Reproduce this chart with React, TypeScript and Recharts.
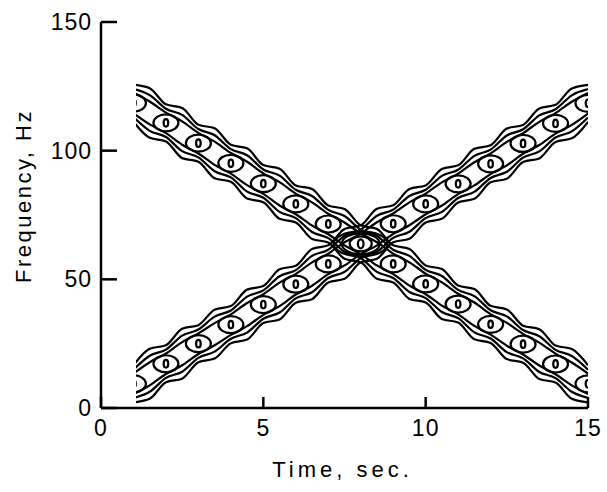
import React from 'react';
import { ComposedChart, Line, Scatter, XAxis, YAxis } from 'recharts';

// ---- data ----
const circleTimes = [1, 2, 3, 4, 5, 6, 7, 8, 9, 10, 11, 12, 13, 14, 15];
const fallingCenters = [118.5, 110.8, 102.9, 95.1, 87.2, 79.3, 71.5, 63.8, 56.0, 48.2, 40.4, 32.5, 24.8, 17.1, 9.4];
const risingCenters = [9.4, 17.2, 25.0, 32.4, 40.2, 48.1, 56.0, 63.8, 71.6, 79.3, 87.1, 94.9, 102.8, 110.6, 118.4];
// contour distance from the ridge (Hz): where the lines pass each circle, and beyond the step half-way
const pinchOffsets = [4.0, 5.5, 7.2];
const spreadOffsets = [0.6, 3.1, 5.8];
const crossing = [{ t: 8, f: 63.8 }];
const bandStart = 1.08;
const xTicks = [0, 5, 10, 15];
const yTicks = [0, 50, 100, 150];

// ---- layout ----
const W = 607;
const H = 492;
const PLOT_L = 101;
const PLOT_R = 588;
const PLOT_T = 22;
const PLOT_B = 408;
const Y_AXIS_W = 60;
const X_AXIS_H = 60;

type Pt = { t: number; f: number };

function buildLine(centers: number[], sign: number, k: number): Pt[] {
  const pts: Pt[] = [];
  for (let i = 0; i < centers.length; i++) {
    pts.push({ t: circleTimes[i], f: centers[i] + sign * pinchOffsets[k] });
    if (i < centers.length - 1) {
      const hi = Math.max(centers[i], centers[i + 1]);
      const lo = Math.min(centers[i], centers[i + 1]);
      const f = sign > 0 ? hi + spreadOffsets[k] : lo - spreadOffsets[k];
      pts.push({ t: circleTimes[i] + 0.5, f });
    }
  }
  return pts;
}

const lines: Pt[][] = [];
[fallingCenters, risingCenters].forEach((c) => {
  pinchOffsets.forEach((_, k) => {
    lines.push(buildLine(c, 1, k));
    lines.push(buildLine(c, -1, k));
  });
});

const fallingPts: Pt[] = circleTimes.map((t, i) => ({ t, f: fallingCenters[i] })).filter((d) => d.t !== 8);
const risingPts: Pt[] = circleTimes.map((t, i) => ({ t, f: risingCenters[i] })).filter((d) => d.t !== 8);

const STROKE = '#000';
const SW = 2.2;

const Rings = (props: any) => {
  const { cx, cy } = props;
  if (cx == null || cy == null) return null;
  return (
    <g>
      <ellipse cx={cx} cy={cy} rx={2.3} ry={3.8} fill="none" stroke={STROKE} strokeWidth={SW} />
      <ellipse cx={cx} cy={cy} rx={12.5} ry={8.5} fill="none" stroke={STROKE} strokeWidth={SW} />
    </g>
  );
};

const CrossRings = (props: any) => {
  const { cx, cy } = props;
  if (cx == null || cy == null) return null;
  const rings = [
    [2.8, 4.5],
    [11, 7.5],
    [19, 10.5],
    [27, 12.5],
  ];
  return (
    <g>
      {rings.map(([rx, ry], i) => (
        <ellipse key={i} cx={cx} cy={cy} rx={rx} ry={ry} fill="none" stroke={STROKE} strokeWidth={SW} />
      ))}
    </g>
  );
};

const FONT = '"Liberation Sans", Arial, Helvetica, sans-serif';

const YTick = (props: any) => {
  const { x, y, payload } = props;
  const axisX = x + 9;
  return (
    <g>
      <line x1={axisX} y1={y} x2={axisX + 16} y2={y} stroke={STROKE} strokeWidth={2.5} />
      <text x={x} y={y} textAnchor="end" dominantBaseline="central" fontFamily={FONT} fontSize={23} letterSpacing={1} fill="#000">
        {payload.value}
      </text>
    </g>
  );
};

const XTick = (props: any) => {
  const { x, y, payload } = props;
  const axisY = y - 12;
  return (
    <g>
      <line x1={x} y1={axisY} x2={x} y2={axisY - 11} stroke={STROKE} strokeWidth={2.5} />
      <text x={x} y={axisY + 28} textAnchor="middle" fontFamily={FONT} fontSize={23} letterSpacing={1} fill="#000">
        {payload.value}
      </text>
    </g>
  );
};

export default function App() {
  const pxPerSec = (PLOT_R - PLOT_L) / 15;
  const clipX = PLOT_L + bandStart * pxPerSec;
  return (
    <div style={{ position: 'absolute', left: 0, top: 0, width: W, height: H, background: '#fff' }}>
      <style>{`.band { clip-path: url(#bandClip); }`}</style>
      <svg width={0} height={0} style={{ position: 'absolute' }}>
        <defs>
          <clipPath id="bandClip" clipPathUnits="userSpaceOnUse">
            <rect x={clipX} y={0} width={PLOT_R - clipX} height={H} />
          </clipPath>
        </defs>
      </svg>
      <ComposedChart
        width={W}
        height={H}
        margin={{ left: PLOT_L - Y_AXIS_W, right: W - PLOT_R, top: PLOT_T, bottom: H - PLOT_B - X_AXIS_H }}
      >
        <XAxis
          type="number"
          dataKey="t"
          domain={[0, 15]}
          ticks={xTicks}
          height={X_AXIS_H}
          tickSize={0}
          tickMargin={12}
          tickLine={false}
          tick={<XTick />}
          axisLine={{ stroke: STROKE, strokeWidth: 2.5 }}
          allowDuplicatedCategory={false}
          label={{
            content: (p: any) => {
              const vb = p.viewBox || {};
              return (
                <text x={vb.x + vb.width / 2 - 2} y={vb.y + 69} textAnchor="middle" fontFamily={FONT} fontSize={22} letterSpacing={4} fill="#000">
                  Time, sec.
                </text>
              );
            },
          }}
        />
        <YAxis
          type="number"
          dataKey="f"
          domain={[0, 150]}
          ticks={yTicks}
          width={Y_AXIS_W}
          tickSize={0}
          tickMargin={9}
          tickLine={false}
          tick={<YTick />}
          axisLine={{ stroke: STROKE, strokeWidth: 2.5 }}
          label={{
            content: (p: any) => {
              const vb = p.viewBox || {};
              const cx = 23;
              const cy = vb.y + 174;
              return (
                <text x={cx} y={cy} transform={`rotate(-90 ${cx} ${cy})`} textAnchor="middle" dominantBaseline="central" fontFamily={FONT} fontSize={22} letterSpacing={2.5} fill="#000">
                  Frequency, Hz
                </text>
              );
            },
          }}
        />
        {lines.map((d, i) => (
          <Line
            key={i}
            className="band"
            data={d}
            dataKey="f"
            type="monotone"
            stroke={STROKE}
            strokeWidth={SW}
            dot={false}
            activeDot={false}
            isAnimationActive={false}
          />
        ))}
        <Scatter className="band" data={fallingPts} dataKey="f" shape={<Rings />} isAnimationActive={false} />
        <Scatter className="band" data={risingPts} dataKey="f" shape={<Rings />} isAnimationActive={false} />
        <Scatter className="band" data={crossing} dataKey="f" shape={<CrossRings />} isAnimationActive={false} />
      </ComposedChart>
    </div>
  );
}
